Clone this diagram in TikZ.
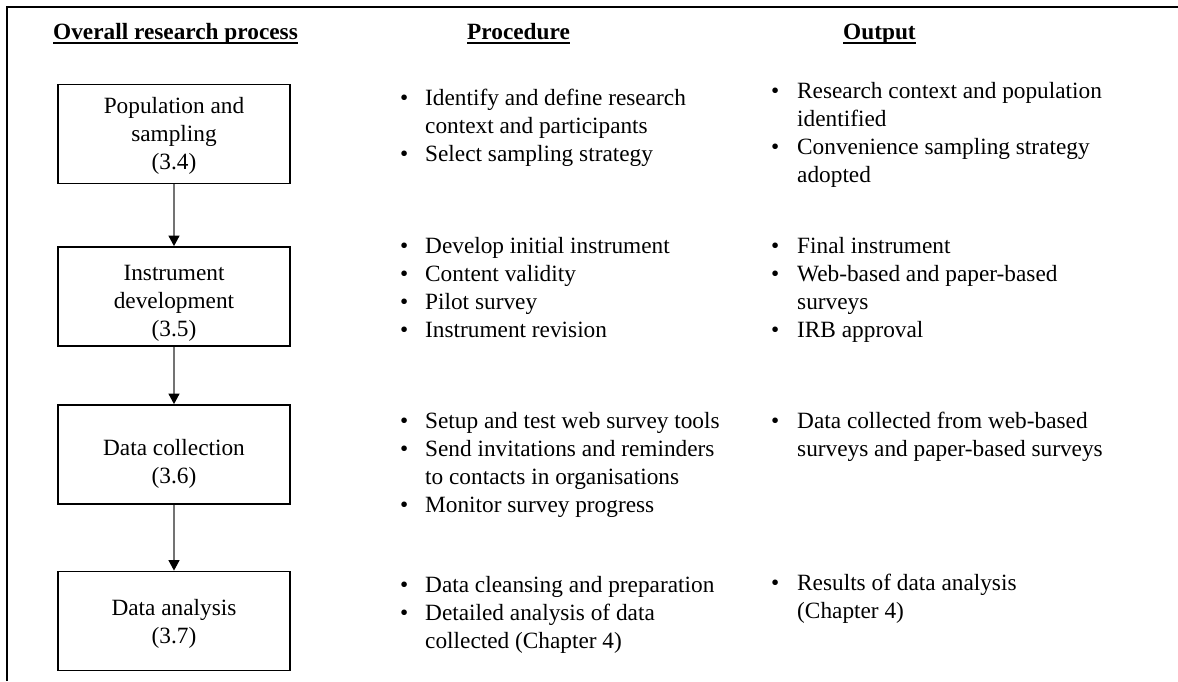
\documentclass[tikz,border=0pt]{standalone}
\usepackage{fontspec}
\setmainfont{Liberation Serif}
\usetikzlibrary{arrows.meta}

% bullet line and its continuation, for the list columns
\newlength{\bulletgap}
\setlength{\bulletgap}{25pt}
\newcommand{\bitem}[1]{\makebox[\bulletgap][l]{\textbullet}#1}
\newcommand{\bcont}[1]{\hspace*{\bulletgap}#1}

\begin{document}
\begin{tikzpicture}[x=1pt, y=-1pt,
  every node/.style={inner sep=0pt, font=\fontsize{23.3}{28}\selectfont},
  framerule/.style={line width=2pt, line cap=butt},
  head/.style={anchor=base west, font=\fontsize{23.3}{28}\selectfont\bfseries},
  uline/.style={line width=1.8pt},
  stage/.style={draw=black, line width=1.8pt, minimum width=232pt, minimum height=99pt},
  stagetext/.style={anchor=base},
  listp/.style={anchor=base west},
  flow/.style={draw=black!55, line width=1.3pt,
    -{Triangle[color=black, width=11pt, length=10.5pt]}}
]
\useasboundingbox (0,0) rectangle (1178,681);

% open frame: left and top rules
\coordinate (fbot) at (7,681);
\coordinate (fcorner) at (7,7);
\coordinate (fright) at (1178,7);
\draw[framerule] (fbot) -- (fcorner) -- (fright);

% column headings
\node[head] (h1) at (53,39) {Overall research process};
\node[head] (h2) at (467,39) {Procedure};
\node[head] (h3) at (843,39) {Output};
\foreach \h in {h1,h2,h3}
  \draw[uline] ([yshift=-4pt]\h.base west) -- ([yshift=-4pt]\h.base east);

% process stages
\node[stage] (s1) at (174,134) {};
\node[stage] (s2) at (174,296.5) {};
\node[stage] (s3) at (174,454.5) {};
\node[stage] (s4) at (174,621) {};

\node[stagetext] (l1) at (174,113.5) {\begin{tabular}[t]{@{}c@{}}Population and\\sampling\\(3.4)\end{tabular}};
\node[stagetext] (l2) at (174,280.5) {\begin{tabular}[t]{@{}c@{}}Instrument\\development\\(3.5)\end{tabular}};
\node[stagetext] (l3) at (174,455.5) {\begin{tabular}[t]{@{}c@{}}Data collection\\(3.6)\end{tabular}};
\node[stagetext] (l4) at (174,615.5) {\begin{tabular}[t]{@{}c@{}}Data analysis\\(3.7)\end{tabular}};

\draw[flow] (s1.south) -- (s2.north);
\draw[flow] (s2.south) -- (s3.north);
\draw[flow] (s3.south) -- (s4.north);

% procedure column
\node[listp] (p1) at (400,105.5) {\begin{tabular}[t]{@{}l@{}}
  \bitem{Identify and define research}\\
  \bcont{context and participants}\\
  \bitem{Select sampling strategy}\end{tabular}};
\node[listp] (p2) at (400,253.5) {\begin{tabular}[t]{@{}l@{}}
  \bitem{Develop initial instrument}\\
  \bitem{Content validity}\\
  \bitem{Pilot survey}\\
  \bitem{Instrument revision}\end{tabular}};
\node[listp] (p3) at (400,428.5) {\begin{tabular}[t]{@{}l@{}}
  \bitem{Setup and test web survey tools}\\
  \bitem{Send invitations and reminders}\\
  \bcont{to contacts in organisations}\\
  \bitem{Monitor survey progress}\end{tabular}};
\node[listp] (p4) at (400,592) {\begin{tabular}[t]{@{}l@{}}
  \bitem{Data cleansing and preparation}\\
  \bitem{Detailed analysis of data}\\
  \bcont{collected (Chapter 4)}\end{tabular}};

% output column
\setlength{\bulletgap}{26pt}
\node[listp] (o1) at (771,98.5) {\begin{tabular}[t]{@{}l@{}}
  \bitem{Research context and population}\\
  \bcont{identified}\\
  \bitem{Convenience sampling strategy}\\
  \bcont{adopted}\end{tabular}};
\node[listp] (o2) at (771,253.5) {\begin{tabular}[t]{@{}l@{}}
  \bitem{Final instrument}\\
  \bitem{Web-based and paper-based}\\
  \bcont{surveys}\\
  \bitem{IRB approval}\end{tabular}};
\node[listp] (o3) at (771,428.5) {\begin{tabular}[t]{@{}l@{}}
  \bitem{Data collected from web-based}\\
  \bcont{surveys and paper-based surveys}\end{tabular}};
\node[listp] (o4) at (771,590) {\begin{tabular}[t]{@{}l@{}}
  \bitem{Results of data analysis}\\
  \bcont{(Chapter 4)}\end{tabular}};
\end{tikzpicture}
\end{document}
